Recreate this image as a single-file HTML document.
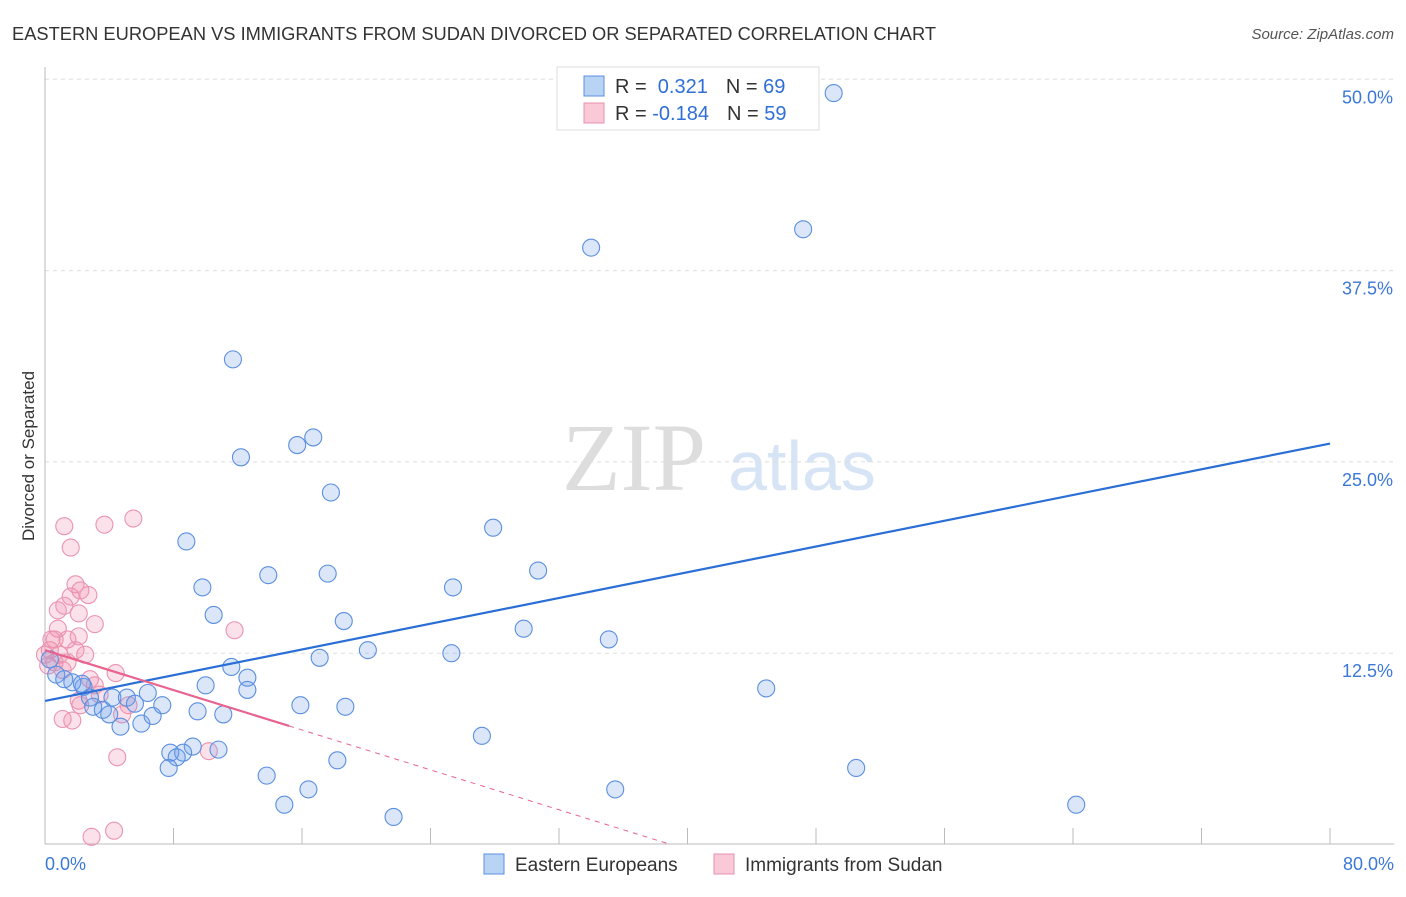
<!DOCTYPE html>
<html><head><meta charset="utf-8"><style>
body{margin:0;background:#fff;font-family:"Liberation Sans",sans-serif}
svg text{font-family:"Liberation Sans",sans-serif}
</style></head><body>
<svg id="c" width="1406" height="892">
<text x="12" y="40" font-size="18.3" fill="#333">EASTERN EUROPEAN VS IMMIGRANTS FROM SUDAN DIVORCED OR SEPARATED CORRELATION CHART</text>
<text x="1394" y="39" font-size="15" fill="#555" text-anchor="end" font-style="italic">Source: ZipAtlas.com</text>
<text x="34" y="456" font-size="17" fill="#333" text-anchor="middle" transform="rotate(-90 34 456)">Divorced or Separated</text>
<text x="634" y="490" font-size="96" fill="#ddd" text-anchor="middle" style="font-family:'Liberation Serif',serif">ZIP</text>
<text x="802" y="490" font-size="70" fill="#d6e4f5" text-anchor="middle">atlas</text>
<g id="grid"></g><g id="axes"></g><g id="pts"></g><g id="lines"></g>
<g>
<rect x="557" y="67" width="262" height="63" fill="#fff" stroke="#ddd"/>
<rect x="584" y="76" width="20" height="20" fill="#b9d3f5" stroke="#5b8fe0"/>
<rect x="584" y="103" width="20" height="20" fill="#f9c9d8" stroke="#e890ab"/>
<text x="615" y="93" font-size="20" fill="#333">R = <tspan fill="#2f6fd6">&#160;0.321</tspan><tspan dx="18">N = </tspan><tspan fill="#2f6fd6">69</tspan></text>
<text x="615" y="120" font-size="20" fill="#333">R = <tspan fill="#2f6fd6">-0.184</tspan><tspan dx="18">N = </tspan><tspan fill="#2f6fd6">59</tspan></text>
</g>
<g>
<rect x="484" y="854" width="20" height="20" fill="#b9d3f5" stroke="#5b8fe0"/>
<text x="515" y="871" font-size="19" fill="#333">Eastern Europeans</text>
<rect x="714" y="854" width="20" height="20" fill="#f9c9d8" stroke="#e890ab"/>
<text x="745" y="871" font-size="19" fill="#333">Immigrants from Sudan</text>
</g>
</svg>
<script>
const yTicks=[12.5,25,37.5,50];
const yTickLabels=["12.5%","25.0%","37.5%","50.0%"];
const xTicks=[0,8,16,24,32,40,48,56,64,72,80];
const blueX=[49.1,47.2,34.0,11.7,12.2,15.7,16.7,17.8,27.9,8.8,30.7,13.9,17.6,9.8,25.4,10.5,18.6,29.8,35.1,20.1,25.3,17.1,11.6,12.6,10.0,12.6,44.9,15.9,18.7,9.5,11.1,27.2,9.2,10.8,7.8,8.6,8.2,18.2,7.7,50.5,13.8,16.4,35.5,14.9,64.2,21.7,3.0,3.6,4.0,4.7,4.2,5.1,5.6,6.4,6.0,6.7,7.3,2.4,1.7,2.8,0.7,0.3,1.2,2.3];
const blueY=[49.1,40.2,39.0,31.7,25.3,26.1,26.6,23.0,20.7,19.8,17.9,17.6,17.7,16.8,16.8,15.0,14.6,14.1,13.4,12.7,12.5,12.2,11.6,10.9,10.4,10.1,10.2,9.1,9.0,8.7,8.5,7.1,6.4,6.2,6.0,6.0,5.7,5.5,5.0,5.0,4.5,3.6,3.6,2.6,2.6,1.8,9.0,8.8,8.5,7.7,9.6,9.6,9.2,9.9,7.9,8.4,9.1,10.3,10.6,9.6,11.1,12.1,10.8,10.5];
const pinkX=[1.2,3.7,5.5,1.6,1.9,2.2,2.7,1.6,1.2,0.8,2.1,3.1,0.8,2.1,0.6,1.4,11.8,0.3,0.9,1.9,0,0.6,1.4,1.1,0.2,4.4,2.8,3.1,2.1,2.2,4.8,1.1,1.7,4.5,10.2,2.9,4.3,5.2,3.4,0.4,2.5];
const pinkY=[20.8,20.9,21.3,19.4,17.0,16.6,16.3,16.2,15.6,15.3,15.1,14.4,14.1,13.6,13.4,13.4,14.0,12.7,12.4,12.7,12.4,11.9,11.9,11.4,11.7,11.2,10.8,10.4,9.4,9.1,8.5,8.2,8.1,5.7,6.1,0.5,0.9,9.1,9.8,13.4,12.4];
const blueFit=[9.38,26.2];
const pinkFit=[12.7,-0.326];
const NS="http://www.w3.org/2000/svg";
const X=v=>45+v*1285/80, Y=v=>844.5-v*191.3/12.5;
function mk(p,t,a){const e=document.createElementNS(NS,t);for(const k in a)e.setAttribute(k,a[k]);document.getElementById(p).appendChild(e);return e;}
yTicks.forEach((t,i)=>{
 const l=mk('grid','line',{x1:45,x2:1394,y1:Y(t),y2:Y(t),stroke:'#ddd','stroke-dasharray':'4,4'});
 
 
 const tx=mk('grid','text',{x:1393,y:Y(t)+24,'font-size':18,fill:'#3b78d8','text-anchor':'end'});
 tx.textContent=yTickLabels[i];
 
 
});
const ax=mk('axes','line',{x1:45,x2:1394,y1:844,y2:844,stroke:'#bbb'});


const ay=mk('axes','line',{x1:45,x2:45,y1:67,y2:844,stroke:'#bbb'});


xTicks.forEach(t=>{const l=mk('axes','line',{x1:X(t),x2:X(t),y1:828,y2:844,stroke:'#bbb'});
 
 });
let t0=mk('axes','text',{x:45,y:870,'font-size':18,fill:'#3b78d8'});t0.textContent='0.0%';


let t1=mk('axes','text',{x:1394,y:870,'font-size':18,fill:'#3b78d8','text-anchor':'end'});t1.textContent='80.0%';


pinkX.forEach((x,i)=>{const c=mk('pts','circle',{cx:X(x),cy:Y(pinkY[i]),r:8.5,fill:'rgba(240,140,170,0.25)',stroke:'#eb93b0','stroke-width':1.1});
 
 });
blueX.forEach((x,i)=>{const c=mk('pts','circle',{cx:X(x),cy:Y(blueY[i]),r:8.5,fill:'rgba(110,160,230,0.25)',stroke:'#5b8fe0','stroke-width':1.1});
 
 });
const bl=mk('lines','line',{x1:X(0),y1:Y(blueFit[0]),x2:X(80),y2:Y(blueFit[1]),stroke:'#2a6fd6','stroke-width':2.2});


const pEnd=15.2,pZero=-pinkFit[0]/pinkFit[1];
const pl=mk('lines','line',{x1:X(0),y1:Y(pinkFit[0]),x2:X(pEnd),y2:Y(pinkFit[0]+pinkFit[1]*pEnd),stroke:'#e8638e','stroke-width':2.2});


const pd=mk('lines','line',{x1:X(pEnd),y1:Y(pinkFit[0]+pinkFit[1]*pEnd),x2:X(pZero),y2:Y(0),stroke:'#e8638e','stroke-width':1,'stroke-dasharray':'5,5'});


</script>
</body></html>
